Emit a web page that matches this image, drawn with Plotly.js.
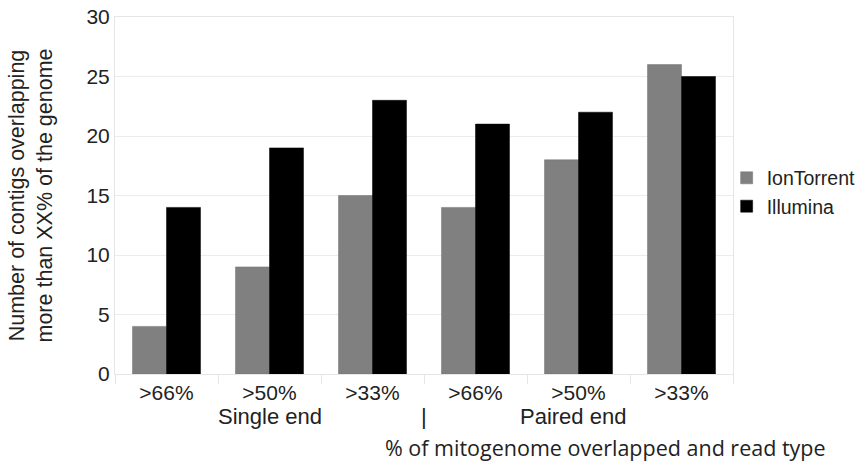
<!DOCTYPE html>
<html><head><meta charset="utf-8">
<script src="https://cdn.plot.ly/plotly-3.0.1.min.js"></script>
<style>body{margin:0;background:#fff}#c{width:863px;height:463px}</style>
</head><body><div id="c"></div>
<script>
var categories = [">66%", ">50%", ">33%", ">66%", ">50%", ">33%"];
var positions = [0, 1, 2, 3, 4, 5];
var ionTorrent = [4, 9, 15, 14, 18, 26];
var illumina = [14, 19, 23, 21, 22, 25];
var groupLabels = ["Single end", "|", "Paired end"];
var groupPositions = [1, 2.5, 3.95];

var font = "Liberation Sans, Arial, sans-serif";
var traces = [
  {type: "bar", name: "IonTorrent", x: positions, y: ionTorrent,
   marker: {color: "#808080", line: {color: "#707070", width: 0.5}}},
  {type: "bar", name: "Illumina", x: positions, y: illumina,
   marker: {color: "#000000", line: {color: "#000", width: 0.5}}}
];
var annotations = groupLabels.map(function (t, i) {
  return {text: t, x: groupPositions[i], xref: "x", y: -0.12, yref: "paper",
    yanchor: "middle", showarrow: false, font: {size: 22, color: "#222", family: font}};
});
annotations.push({text: "% of mitogenome overlapped and read type", x: 0.793, xref: "paper",
  y: -0.205, yref: "paper", xanchor: "center", yanchor: "middle", showarrow: false,
  font: {size: 21.5, color: "#222", family: "Open Sans, sans-serif"}});

var layout = {
  width: 863, height: 463,
  margin: {l: 115, r: 130, t: 17, b: 89, autoexpand: false},
  barmode: "group", bargap: 0.34, bargroupgap: 0,
  paper_bgcolor: "#fff", plot_bgcolor: "#fff",
  font: {family: font, color: "#222", size: 21},
  xaxis: {tickvals: positions, ticktext: categories, range: [-0.5, 5.5],
    showgrid: false, ticks: "", showline: true, linecolor: "#e6e6e6", mirror: true,
    tickfont: {size: 21}, zeroline: false,
    minor: {tickvals: [-0.5, 0.5, 1.5, 2.5, 3.5, 4.5, 5.5], ticks: "outside", ticklen: 9,
      tickcolor: "#e6e6e6", showgrid: false}},
  yaxis: {range: [0, 30], dtick: 5, showgrid: true, gridcolor: "#ececec",
    showline: true, linecolor: "#e6e6e6", mirror: true, zeroline: false,
    tickfont: {size: 21}, ticks: "", ticklen: 6,
    title: {text: "Number of contigs overlapping<br>more than XX% of the genome",
      font: {size: 21.5}, standoff: 27}},
  legend: {xref: "container", yref: "container", x: 0.842, y: 0.585, xanchor: "left", yanchor: "middle",
    font: {size: 19.5}, itemwidth: 30, tracegroupgap: 0, bgcolor: "rgba(0,0,0,0)"},
  annotations: annotations,
  showlegend: true
};
Plotly.newPlot("c", traces, layout, {displayModeBar: false, staticPlot: true});
</script></body></html>
